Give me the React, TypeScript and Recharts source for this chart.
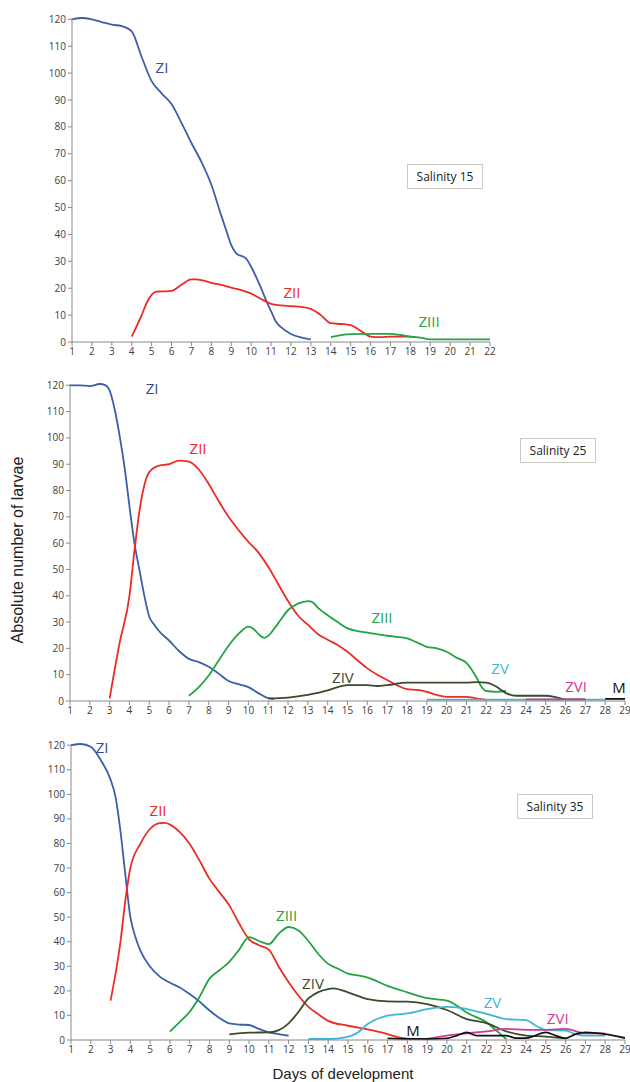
import { LineChart, Line, XAxis, YAxis, ReferenceDot } from 'recharts';

type Pt = [number, number];

// tick labels
const days15 = [1, 2, 3, 4, 5, 6, 7, 8, 9, 10, 11, 12, 13, 14, 15, 16, 17, 18, 19, 20, 21, 22];
const days29 = [1, 2, 3, 4, 5, 6, 7, 8, 9, 10, 11, 12, 13, 14, 15, 16, 17, 18, 19, 20, 21, 22, 23, 24, 25, 26, 27, 28, 29];
const counts = [0, 10, 20, 30, 40, 50, 60, 70, 80, 90, 100, 110, 120];

// Salinity 15  [day, larvae]
const zi15: Pt[] = [[1, 120], [1.5, 120.5], [2, 120], [2.5, 119], [3, 118], [3.5, 117.5], [4, 115.5], [4.5, 106], [5, 97], [5.5, 92.5], [6, 88.5], [6.5, 81.5], [7, 74], [7.5, 67], [8, 58.5], [8.5, 47], [8.75, 41.5], [9, 36], [9.25, 33], [9.75, 31], [10, 28], [10.5, 20], [10.75, 15.5], [11, 11.5], [11.25, 7.5], [11.5, 5.5], [12, 3], [12.5, 1.7], [13, 1]];
const zii15: Pt[] = [[4, 2], [4.5, 10], [4.75, 14.5], [5, 17.5], [5.25, 18.7], [5.5, 18.8], [6, 19], [6.5, 21.3], [7, 23.3], [7.25, 23.3], [7.5, 23], [8, 22], [8.5, 21.2], [9, 20.2], [9.5, 19.3], [10, 18], [10.5, 16], [11, 14.2], [11.5, 13.6], [12, 13.3], [12.5, 13.1], [13, 12.3], [13.5, 10], [14, 7], [14.5, 6.7], [15, 6.3], [15.5, 4.2], [16, 2], [16.5, 1.8], [17, 2], [18, 2], [18.3, 1.8]];
const ziii15: Pt[] = [[14, 1.8], [15, 2.9], [16, 3], [17, 3], [17.5, 2.6], [18, 2], [18.5, 1.6], [19, 1], [20, 1], [21, 1], [22, 1]];

// Salinity 25
const zi25: Pt[] = [[1, 120], [1.5, 120], [2, 119.7], [2.5, 120.5], [2.8, 120], [3, 118], [3.25, 111], [3.5, 101], [3.75, 89], [4, 74], [4.25, 60], [4.5, 50], [4.75, 40], [5, 32], [5.25, 29], [5.5, 26.5], [6, 23], [6.5, 19], [7, 16], [7.5, 14.8], [8, 13], [8.5, 10.4], [9, 7.6], [9.5, 6.4], [10, 5.3], [10.5, 3], [11, 1.1], [11.3, 0.8]];
const zii25: Pt[] = [[3, 1], [3.5, 22], [4, 40], [4.25, 57], [4.5, 72], [4.75, 82], [5, 87], [5.5, 89.5], [6, 90], [6.5, 91.4], [7, 91], [7.5, 88], [8, 82.5], [8.5, 76], [9, 70], [9.5, 65], [10, 60.5], [10.5, 56.5], [11, 51], [11.5, 44.5], [12, 38], [12.5, 32.5], [13, 29], [13.5, 25.5], [14, 23.3], [14.5, 21.3], [15, 18.7], [15.5, 15.5], [16, 12.4], [16.5, 10], [17, 8], [17.5, 6], [18, 4.5], [18.5, 4.2], [19, 3.5], [19.5, 2.3], [20, 1.6], [21, 1.6], [21.5, 1], [22, 0.4]];
const ziii25: Pt[] = [[7, 2], [7.5, 5.3], [8, 9.7], [8.5, 15.4], [9, 21], [9.5, 25.5], [10, 28.3], [10.25, 27.5], [10.5, 25.5], [10.8, 24], [11, 24.8], [11.5, 29.5], [12, 34.5], [12.5, 37], [13, 38], [13.25, 37.5], [13.5, 35.5], [14, 32.6], [14.5, 30], [15, 27.6], [15.5, 26.6], [16, 26], [17, 24.8], [18, 23.8], [18.5, 22.3], [19, 20.6], [19.5, 20], [20, 18.7], [20.5, 16.5], [21, 14.5], [21.5, 9], [21.75, 5.5], [22, 3.8], [22.5, 3.5], [23, 3.8]];
const ziv25: Pt[] = [[11, 1], [12, 1.3], [13, 2.3], [14, 4], [14.5, 5.3], [15, 6], [16, 6], [16.5, 5.7], [17, 6], [18, 7], [19, 7], [20, 7], [21, 7], [21.5, 7.2], [22, 7], [22.5, 5.5], [23, 3], [23.5, 2], [24, 2], [25, 2], [25.5, 1.5], [26, 0.6], [27, 0.6]];
const zv25: Pt[] = [[19, 0.5], [24, 0.5], [28, 0.5]];
const zvi25: Pt[] = [[24, 0.6], [27, 0.6]];
const m25: Pt[] = [[28, 0.8], [29, 0.8]];

// Salinity 35
const zi35: Pt[] = [[1, 120], [1.5, 120.5], [2, 119.4], [2.5, 114], [3, 106], [3.25, 99], [3.5, 85], [3.75, 67], [4, 50], [4.25, 42], [4.5, 36.5], [5, 29.8], [5.5, 25.7], [6, 23.3], [6.5, 21.4], [7, 18.7], [7.5, 15.6], [8, 12], [8.5, 9], [9, 6.8], [9.5, 6.3], [10, 6.1], [10.5, 4.5], [11, 3.1], [11.5, 2.4], [12, 1.8]];
const zii35: Pt[] = [[3, 16], [3.5, 40], [3.75, 57], [4, 70], [4.5, 79.8], [5, 86], [5.5, 88.3], [5.75, 88.4], [6, 87.7], [6.5, 84.6], [7, 79.8], [7.5, 73], [8, 65.6], [8.5, 60.2], [9, 54.8], [9.5, 47.4], [10, 41], [10.5, 38.6], [11, 36.8], [11.5, 29.8], [12, 23.5], [12.5, 18], [13, 13.5], [13.5, 10.5], [14, 7.8], [15, 5.8], [16, 4.3], [17, 2.4], [17.5, 1.2], [18, 0.6], [18.5, 0.4], [19, 0.4]];
const ziii35: Pt[] = [[6, 3.4], [6.5, 7.4], [7, 11.5], [7.5, 17.6], [8, 25], [8.5, 28.4], [9, 31.8], [9.5, 36.8], [10, 41.9], [10.5, 40.3], [11, 39], [11.5, 43.3], [12, 46], [12.5, 44.6], [13, 40.3], [13.5, 35], [14, 31], [14.5, 29], [15, 27], [15.5, 26.3], [16, 25.4], [17, 22], [18, 19.4], [19, 17], [20, 16], [20.5, 14], [21, 11.2], [22, 7.2], [22.5, 3.8], [23, 0.4]];
const ziv35: Pt[] = [[9, 2.3], [10, 3], [11, 3.1], [11.5, 4], [12, 6.8], [12.5, 11.5], [13, 16.9], [13.5, 19.5], [14, 20.7], [14.25, 21], [15, 19.4], [16, 16.6], [17, 15.7], [18, 15.6], [19, 14.6], [20, 12.2], [21, 8.5], [22, 6.9], [23, 3.5], [24, 1.8], [25, 1.4], [26, 0.7]];
const zv35: Pt[] = [[13, 0.4], [14, 0.4], [14.8, 1], [15.5, 3.1], [16, 6.5], [17, 9.9], [18, 10.8], [19, 12.6], [20, 13.5], [20.5, 13.3], [21, 12.6], [22, 10.6], [23, 8.5], [24, 8.1], [24.5, 5.8], [25, 4.1], [26, 3.8], [26.5, 2.4], [27, 1.8], [28, 1.8]];
const zvi35: Pt[] = [[19, 0.4], [20, 1.8], [21, 2.7], [22, 3.5], [23, 4.5], [24, 4.1], [25, 4.1], [26, 4.5], [27, 2.7], [28, 2.7]];
const m35: Pt[] = [[17, 0.7], [18, 0.4], [19, 0.4], [20, 0.7], [20.5, 1.8], [21, 3.1], [21.5, 1.8], [22, 1.8], [23, 1.8], [23.5, 0.8], [24, 0.8], [25, 3.1], [25.5, 1.8], [26, 0.7], [26.5, 2.4], [27, 3.1], [28, 2.4], [29, 0.8]];

const C = {
  zi: '#3d5eab',
  ziLab: '#3b4a98',
  zii: '#ec2b25',
  ziii: '#23a443',
  ziv: '#3a4a2c',
  zv: '#3fb7d2',
  zvi: '#d13a94',
  m: '#111111',
};

const pts = (a: Pt[]) => a.map(([d, v]) => ({ d, v }));

const tickStyle = { fontSize: 10, fill: '#404040', fontFamily: 'Open Sans' };
const axisGray = '#8a8a8a';

type Series = { data: Pt[]; color: string; name: string };
type Lab = { text: string; d: number; v: number; color: string };

function Panel(props: {
  top: number; width: number; height: number; mTop: number; mLeft: number; mRight: number;
  days: number[]; series: Series[]; labels: Lab[];
}) {
  const { top, width, height, mTop, mLeft, mRight, days, series, labels } = props;
  return (
    <div style={{ position: 'absolute', left: 0, top }}>
      <LineChart width={width} height={height} margin={{ top: mTop, right: mRight, left: mLeft, bottom: 0 }}>
        <XAxis dataKey="d" type="number" domain={[days[0], days[days.length - 1]]} ticks={days} interval={0}
          tick={tickStyle} tickSize={4} stroke={axisGray} height={20} allowDataOverflow />
        <YAxis dataKey="v" type="number" domain={[0, 120]} ticks={counts} interval={0}
          tick={tickStyle} tickSize={4} stroke={axisGray} width={40} />
        {series.map((s) => (
          <Line key={s.name} data={pts(s.data)} dataKey="v" type="monotone" stroke={s.color} strokeWidth={1.8}
            dot={false} activeDot={false} isAnimationActive={false} />
        ))}
        {labels.map((l) => (
          <ReferenceDot key={l.text} x={l.d} y={l.v} r={0} stroke="none"
            label={{ value: l.text, position: 'center', fill: l.color, fontSize: 15, fontFamily: 'Open Sans' }} />
        ))}
      </LineChart>
    </div>
  );
}

function Box({ left, top, text }: { left: number; top: number; text: string }) {
  return (
    <div style={{
      position: 'absolute', left, top, width: 74, height: 23, border: '1px solid #cfc8c2',
      fontFamily: 'Open Sans', fontSize: 12, color: '#222', textAlign: 'center', lineHeight: '23px', background: '#fff',
    }}>{text}</div>
  );
}

export default function App() {
  return (
    <div style={{ position: 'absolute', left: 0, top: 0, width: 630, height: 1082, background: '#fff', overflow: 'hidden' }}>
      <Panel top={0} width={500} height={362} mTop={18} mLeft={32} mRight={10} days={days15}
        series={[
          { name: 'ZI', data: zi15, color: C.zi },
          { name: 'ZII', data: zii15, color: C.zii },
          { name: 'ZIII', data: ziii15, color: C.ziii },
        ]}
        labels={[
          { text: 'ZI', d: 5.52, v: 101.9, color: C.ziLab },
          { text: 'ZII', d: 12.05, v: 18.5, color: C.zii },
          { text: 'ZIII', d: 18.94, v: 7.4, color: C.ziii },
        ]} />
      <Panel top={360} width={630} height={361} mTop={24} mLeft={30} mRight={5} days={days29}
        series={[
          { name: 'ZI', data: zi25, color: C.zi },
          { name: 'ZII', data: zii25, color: C.zii },
          { name: 'ZIII', data: ziii25, color: C.ziii },
          { name: 'ZIV', data: ziv25, color: C.ziv },
          { name: 'ZV', data: zv25, color: C.zv },
          { name: 'ZVI', data: zvi25, color: C.zvi },
          { name: 'M', data: m25, color: C.m },
        ]}
        labels={[
          { text: 'ZI', d: 5.14, v: 118.9, color: C.ziLab },
          { text: 'ZII', d: 7.46, v: 96.1, color: C.zii },
          { text: 'ZIII', d: 16.74, v: 31.8, color: C.ziii },
          { text: 'ZIV', d: 14.77, v: 8.7, color: C.ziv },
          { text: 'ZV', d: 22.7, v: 12.1, color: C.zv },
          { text: 'ZVI', d: 26.53, v: 5.3, color: C.zvi },
          { text: 'M', d: 28.7, v: 4.9, color: C.m },
        ]} />
      <Panel top={722} width={630} height={338} mTop={22} mLeft={31} mRight={5} days={days29}
        series={[
          { name: 'ZI', data: zi35, color: C.zi },
          { name: 'ZII', data: zii35, color: C.zii },
          { name: 'ZIII', data: ziii35, color: C.ziii },
          { name: 'ZIV', data: ziv35, color: C.ziv },
          { name: 'ZV', data: zv35, color: C.zv },
          { name: 'ZVI', data: zvi35, color: C.zvi },
          { name: 'M', data: m35, color: C.m },
        ]}
        labels={[
          { text: 'ZI', d: 2.57, v: 119.2, color: C.ziLab },
          { text: 'ZII', d: 5.4, v: 93.2, color: C.zii },
          { text: 'ZIII', d: 11.9, v: 50.7, color: C.ziii },
          { text: 'ZIV', d: 13.23, v: 23.1, color: C.ziv },
          { text: 'ZV', d: 22.3, v: 15, color: C.zv },
          { text: 'ZVI', d: 25.6, v: 8.5, color: C.zvi },
          { text: 'M', d: 18.28, v: 3.6, color: C.m },
        ]} />
      <Box left={407} top={164} text="Salinity 15" />
      <Box left={520} top={438} text="Salinity 25" />
      <Box left={517} top={794} text="Salinity 35" />
      <div style={{
        position: 'absolute', left: 18, top: 550, transform: 'translate(-50%, -50%) rotate(-90deg)', whiteSpace: 'nowrap',
        fontFamily: 'Liberation Sans', fontSize: 16, color: '#222',
      }}>Absolute number of larvae</div>
      <div style={{
        position: 'absolute', left: 343, top: 1066, transform: 'translateX(-50%)', whiteSpace: 'nowrap',
        fontFamily: 'Liberation Sans', fontSize: 15, color: '#222', lineHeight: '16px',
      }}>Days of development</div>
    </div>
  );
}
